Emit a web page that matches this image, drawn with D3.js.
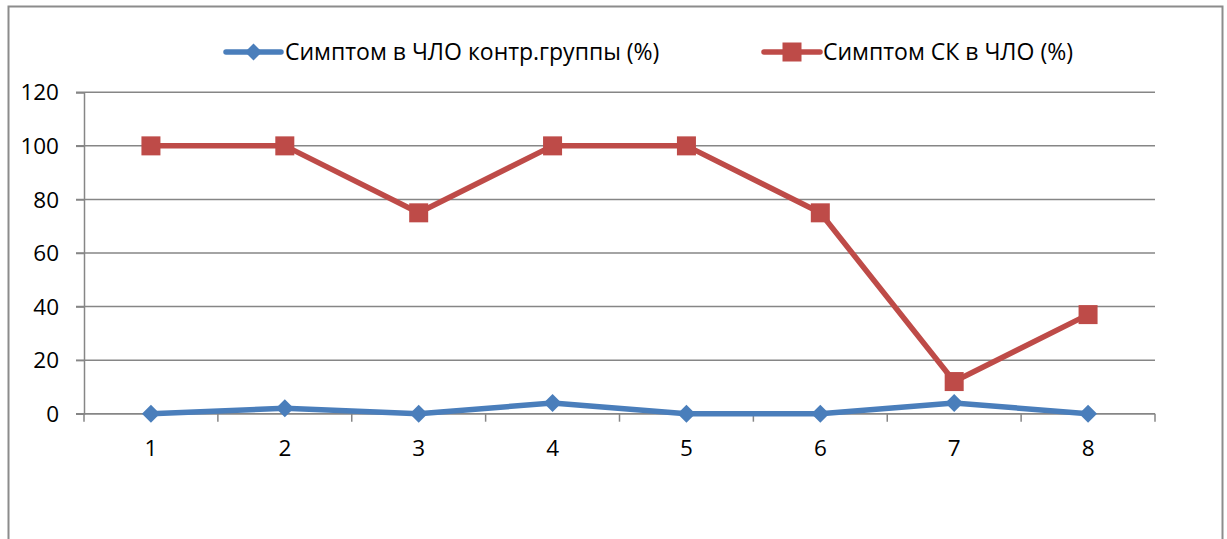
<!DOCTYPE html>
<html>
<head>
<meta charset="utf-8">
<script src="https://cdn.jsdelivr.net/npm/d3@7"></script>
<style>
  html, body { margin: 0; padding: 0; background: #fff; }
  svg { display: block; }
  text { font-family: "Open Sans", "Noto Sans", sans-serif; fill: #000; }
</style>
</head>
<body>
<svg id="chart" width="1227" height="539"></svg>
<script>
// Categories along the x axis
const categories = ["1", "2", "3", "4", "5", "6", "7", "8"];
// Series names and values (%)
const seriesNames = ["Симптом в ЧЛО контр.группы (%)", "Симптом СК в ЧЛО (%)"];
const controlValues = [0, 2, 0, 4, 0, 0, 4, 0];
const skValues = [100, 100, 75, 100, 100, 75, 12, 37];
// Y axis ticks
const yTicks = [0, 20, 40, 60, 80, 100, 120];

const colors = ["#4a7ebb", "#be4b48"];
const tickFont = 22.5;
const legendFont = 23;
const svg = d3.select("#chart");

// Outer chart frame (bottom edge lies below the visible area)
svg.append("rect")
  .attr("x", 8.5).attr("y", 6.5)
  .attr("width", 1214).attr("height", 560)
  .attr("fill", "none").attr("stroke", "#8c8c8c").attr("stroke-width", 2);

const plot = { left: 84, right: 1155, top: 92.3, bottom: 413.7 };

const x = d3.scaleBand().domain(categories).range([plot.left, plot.right]).padding(0);
const y = d3.scaleLinear().domain([0, 120]).range([plot.bottom, plot.top]);

// Horizontal gridlines with short tick stubs on the left
const grid = svg.append("g");
grid.selectAll("line").data(yTicks).join("line")
  .attr("x1", plot.left - 8).attr("x2", plot.right)
  .attr("y1", d => y(d)).attr("y2", d => y(d))
  .attr("stroke", "#868686").attr("stroke-width", 1.5);

// Y axis
const yAxis = svg.append("g").attr("transform", `translate(${plot.left},0)`)
  .call(d3.axisLeft(y).tickValues(yTicks).tickSize(8).tickPadding(17));
yAxis.select(".domain").attr("stroke", "#868686").attr("stroke-width", 1.5);
yAxis.selectAll(".tick line").attr("stroke", "#868686").attr("stroke-width", 1.5);
yAxis.selectAll("text").attr("font-size", tickFont)
  .attr("font-family", "'Open Sans', 'Noto Sans', sans-serif").attr("dy", "0.34em");

// X axis: ticks at category boundaries, labels at centers
const xAxisG = svg.append("g").attr("transform", `translate(0,${plot.bottom})`);
xAxisG.append("line")
  .attr("x1", plot.left).attr("x2", plot.right)
  .attr("stroke", "#868686").attr("stroke-width", 1.5);
const boundaries = categories.map(c => x(c)).concat([x(categories[categories.length - 1]) + x.bandwidth()]);
xAxisG.selectAll("line.tk").data(boundaries).join("line").attr("class", "tk")
  .attr("x1", d => d).attr("x2", d => d).attr("y1", 0).attr("y2", 8)
  .attr("stroke", "#868686").attr("stroke-width", 1.5);
xAxisG.selectAll("text").data(categories).join("text")
  .attr("x", d => x(d) + x.bandwidth() / 2)
  .attr("y", 42)
  .attr("text-anchor", "middle")
  .attr("font-size", tickFont)
  .text(d => d);

const cx = d => x(d) + x.bandwidth() / 2;
const line = d3.line().x(d => cx(d.c)).y(d => y(d.v));

const controlData = categories.map((c, i) => ({ c, v: controlValues[i] }));
const skData = categories.map((c, i) => ({ c, v: skValues[i] }));

// Control group series: blue with diamond markers
svg.append("path").datum(controlData)
  .attr("d", line).attr("fill", "none")
  .attr("stroke", colors[0]).attr("stroke-width", 5.5).attr("stroke-linejoin", "round");
const diamond = (px, py, r) => `M${px},${py - r}L${px + r},${py}L${px},${py + r}L${px - r},${py}Z`;
svg.append("g").selectAll("path").data(controlData).join("path")
  .attr("d", d => diamond(cx(d.c), y(d.v), 9))
  .attr("fill", colors[0]);

// SK series: red with square markers
svg.append("path").datum(skData)
  .attr("d", line).attr("fill", "none")
  .attr("stroke", colors[1]).attr("stroke-width", 5.5).attr("stroke-linejoin", "round");
svg.append("g").selectAll("rect").data(skData).join("rect")
  .attr("x", d => cx(d.c) - 9.5).attr("y", d => y(d.v) - 9.5)
  .attr("width", 19).attr("height", 19)
  .attr("fill", colors[1]);

// Legend
const legendItems = [
  { name: seriesNames[0], color: colors[0], marker: "diamond", x0: 226, x1: 281, tx: 285 },
  { name: seriesNames[1], color: colors[1], marker: "square", x0: 764, x1: 820, tx: 823 }
];
const ly = 52;
const lg = svg.append("g");
legendItems.forEach(item => {
  lg.append("line").attr("x1", item.x0).attr("x2", item.x1).attr("y1", ly).attr("y2", ly)
    .attr("stroke", item.color).attr("stroke-width", 5.5).attr("stroke-linecap", "round");
  const mx = (item.x0 + item.x1) / 2;
  if (item.marker === "diamond") {
    lg.append("path").attr("d", diamond(mx, ly, 8.5)).attr("fill", item.color);
  } else {
    lg.append("rect").attr("x", mx - 9.5).attr("y", ly - 9.5).attr("width", 19).attr("height", 19)
      .attr("fill", item.color);
  }
  lg.append("text").attr("x", item.tx).attr("y", ly + 8).attr("font-size", legendFont).text(item.name);
});
</script>
</body>
</html>
